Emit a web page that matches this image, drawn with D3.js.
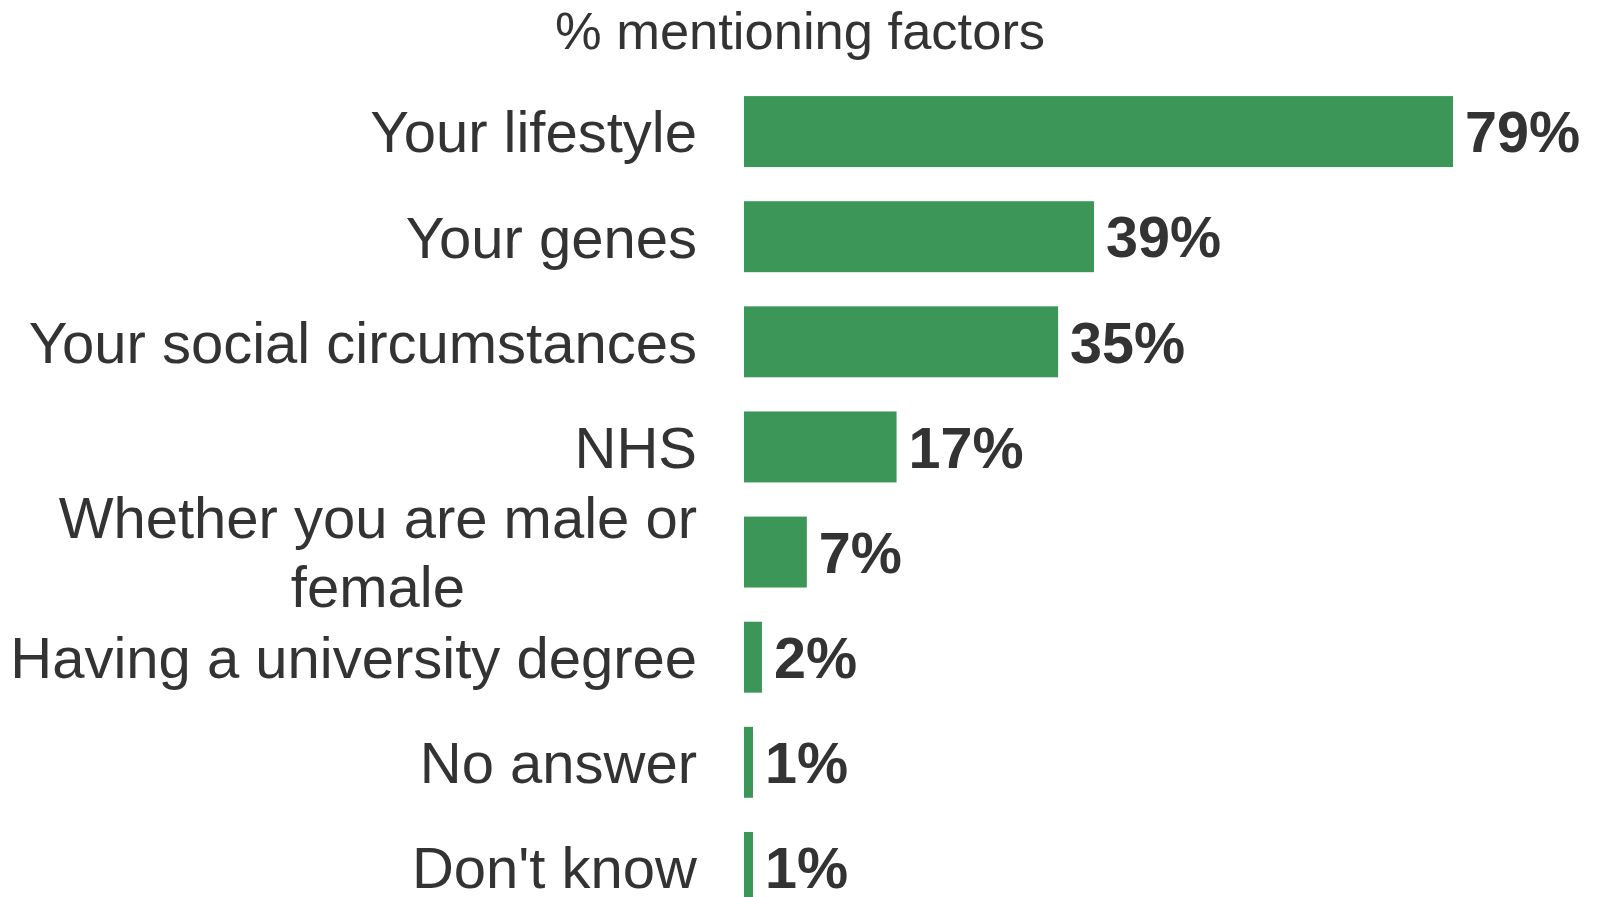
<!DOCTYPE html>
<html>
<head>
<meta charset="utf-8">
<script src="https://cdn.jsdelivr.net/npm/d3@7"></script>
<style>
  html, body { margin: 0; padding: 0; background: #ffffff; overflow: hidden; }
  svg { display: block; font-family: "Liberation Sans", Arial, sans-serif; }
</style>
</head>
<body>
<svg id="chart" width="1599" height="897"></svg>
<script>
// Share of respondents mentioning each factor
const categories = [
  "Your lifestyle",
  "Your genes",
  "Your social circumstances",
  "NHS",
  "Whether you are male or female",
  "Having a university degree",
  "No answer",
  "Don't know"
];
const values = [79, 39, 35, 17, 7, 2, 1, 1];
const valueLabels = ["79%", "39%", "35%", "17%", "7%", "2%", "1%", "1%"];
// Categories whose labels run over two lines
const labelLines = {
  "Whether you are male or female": ["Whether you are male or", "female"]
};
const title = "% mentioning factors";

const data = categories.map((c, i) => ({ category: c, value: values[i], label: valueLabels[i] }));

const svg = d3.select("#chart");
const textColor = "#333333";
const barColor = "#3c9658";

const x = d3.scaleLinear()
  .domain([0, d3.max(values)])
  .range([744, 1453]);

const y = d3.scaleBand()
  .domain(categories)
  .range([79, 920])
  .paddingInner(0.325)
  .paddingOuter(0.1625);

// Title
svg.append("text")
  .attr("x", 800)
  .attr("y", 49)
  .attr("text-anchor", "middle")
  .attr("font-size", 52.5)
  .attr("fill", textColor)
  .text(title);

// Bars
svg.append("g")
  .selectAll("rect")
  .data(data)
  .join("rect")
  .attr("x", x(0))
  .attr("y", d => y(d.category))
  .attr("width", d => x(d.value) - x(0))
  .attr("height", y.bandwidth())
  .attr("fill", barColor);

// Value labels
svg.append("g")
  .selectAll("text")
  .data(data)
  .join("text")
  .attr("x", d => x(d.value) + 12)
  .attr("y", d => y(d.category) + y.bandwidth() / 2)
  .attr("dy", "0.36em")
  .attr("font-size", 57.5)
  .attr("font-weight", "bold")
  .attr("fill", textColor)
  .text(d => d.label);

// Category labels, right-aligned against the bars
const labelRight = 697;
const lineHeight = 69;
const catG = svg.append("g");
data.forEach(d => {
  const lines = labelLines[d.category] || [d.category];
  const cy = y(d.category) + y.bandwidth() / 2;
  const t = catG.append("text")
    .attr("font-size", 58)
    .attr("fill", textColor);
  const spans = lines.map((ln, i) => t.append("tspan")
    .attr("y", cy + (i - (lines.length - 1) / 2) * lineHeight)
    .attr("dy", "0.36em")
    .text(ln));
  if (lines.length === 1) {
    t.attr("text-anchor", "end");
    spans[0].attr("x", labelRight);
  } else {
    // multi-line labels are centred on their widest line
    const widths = spans.map(s => s.node().getComputedTextLength());
    const cx = labelRight - d3.max(widths) / 2;
    t.attr("text-anchor", "middle");
    spans.forEach(s => s.attr("x", cx));
  }
});
</script>
</body>
</html>
